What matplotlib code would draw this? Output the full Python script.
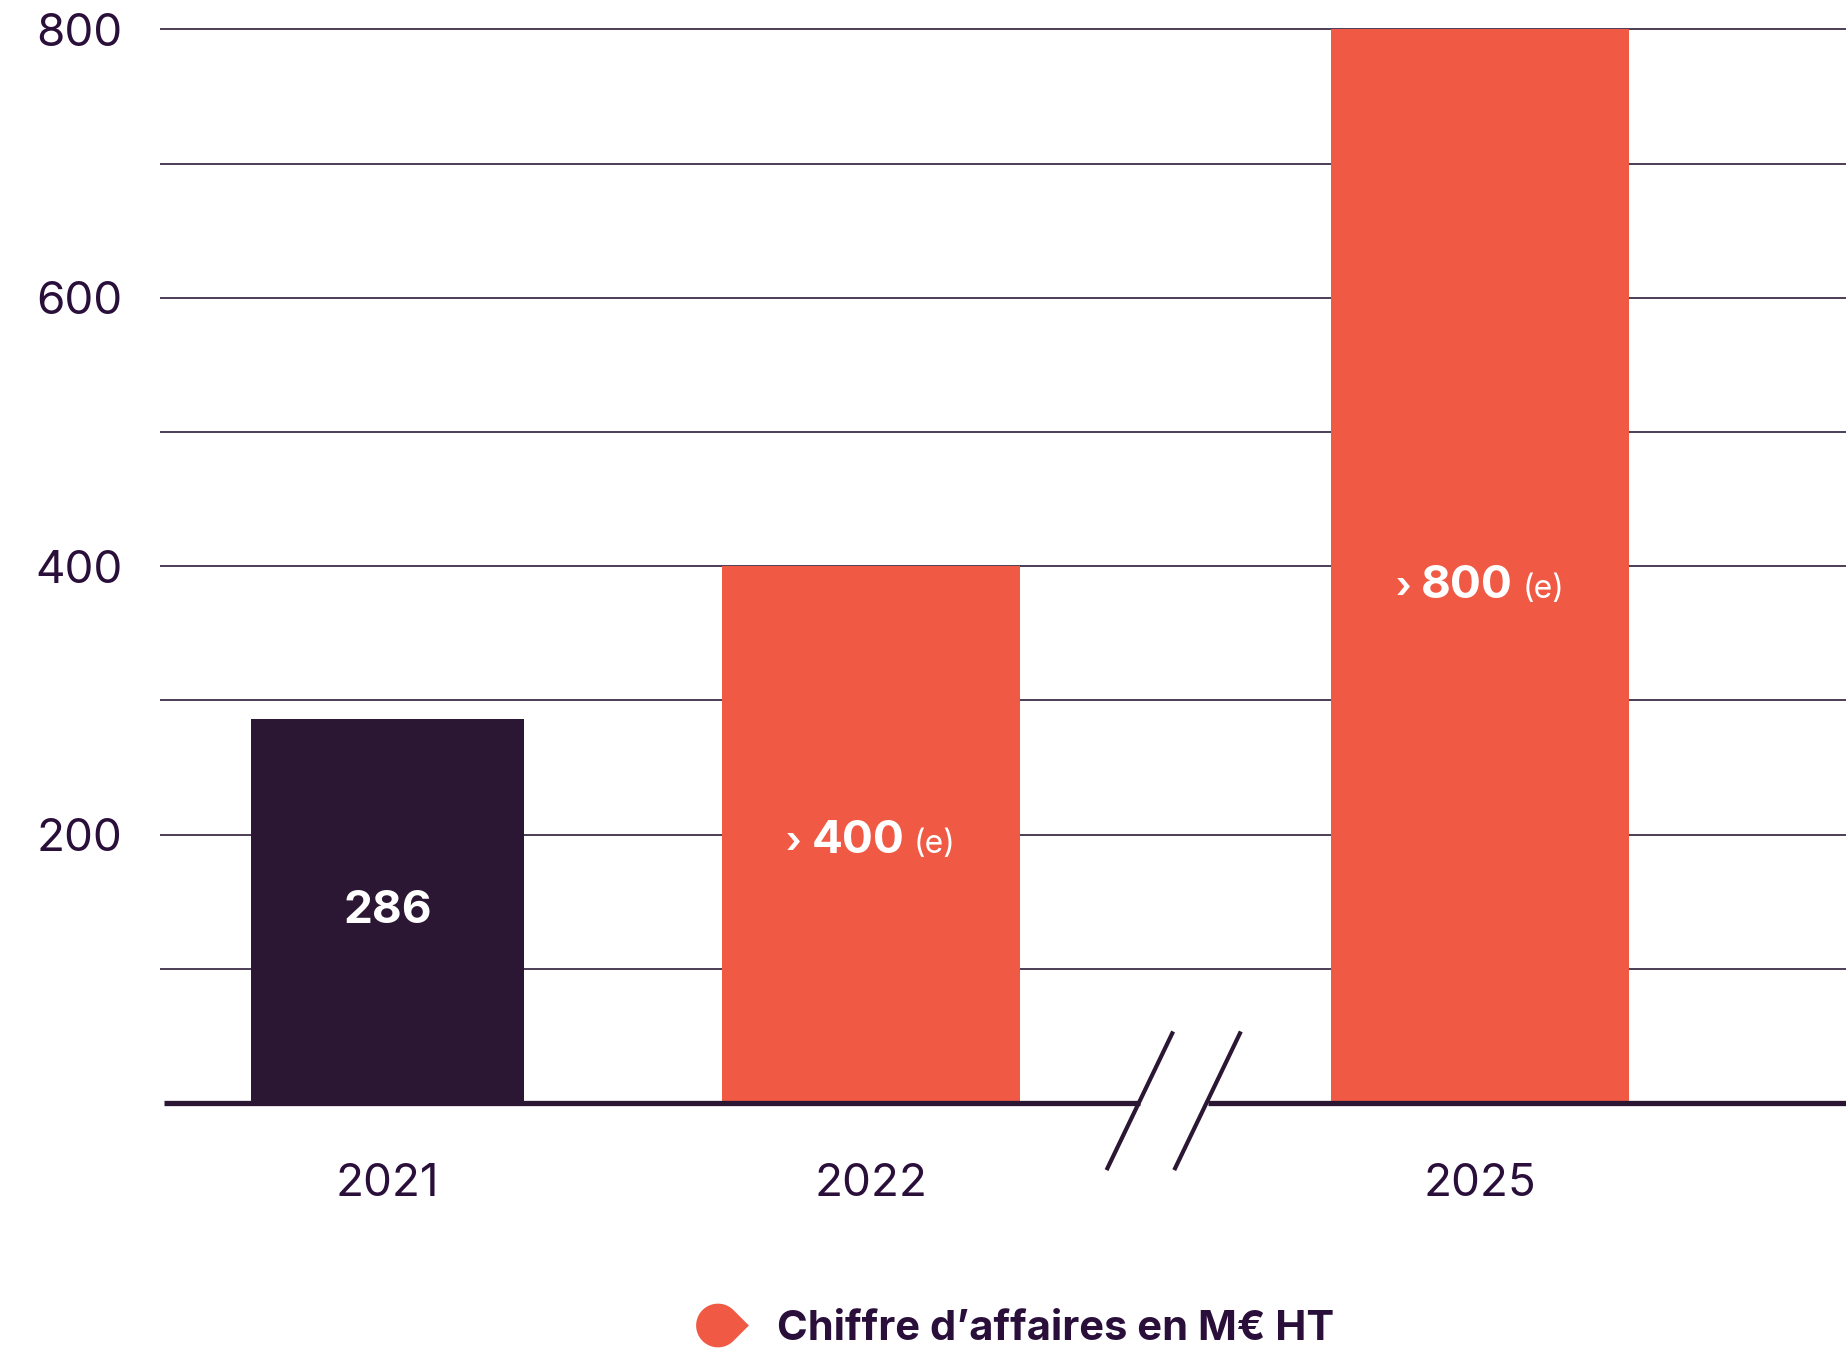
import numpy as np
import matplotlib
matplotlib.use('Agg')
import matplotlib.pyplot as plt
from matplotlib.path import Path
from matplotlib.lines import Line2D
from matplotlib.offsetbox import TextArea, HPacker, AnnotationBbox

# revenue, M€ excl. tax
years = ['2021', '2022', '2025']
revenue = [286, 400, 800]
estimated = [False, True, True]
x_pos = [0.0, 1.0, 2.26]          # gap before 2025 (axis break)
bar_width = [0.565, 0.616, 0.616]
ytick_vals = [100, 200, 300, 400, 500, 600, 700, 800]
ytick_labels = ['', '200', '', '400', '', '600', '', '800']
legend_label = 'Chiffre d\u2019affaires en M\u20ac HT'

# vertical nudge of the in-bar labels below mid-height (data units)
label_drop = [0, 5, 15]

DARK = '#2b1634'
CORAL = '#f05a45'
TEXT = '#2a0f3a'
GRID = '#4d3d58'
FONT = 'Inter'

plt.rcParams['font.family'] = [FONT, 'DejaVu Sans']

fig = plt.figure(figsize=(18.46, 13.48), dpi=100)
ax = fig.add_axes([160 / 1846, 0.18175, 1 - 160 / 1846, 0.98323 - 0.18175])

colors = [CORAL if e else DARK for e in estimated]
ax.bar(x_pos, revenue, width=bar_width, color=colors, zorder=2)

ax.set_xlim(-0.4705, 3.0165)
ax.set_ylim(0, 805)
ax.set_axisbelow(True)

ax.set_yticks(ytick_vals)
ax.set_yticklabels(ytick_labels)
ax.yaxis.grid(True, color=GRID, lw=1.4)
ax.set_xticks(x_pos)
ax.set_xticklabels(years)
ax.tick_params(axis='y', length=0, pad=27, labelsize=33, labelcolor=TEXT)
ax.tick_params(axis='x', length=0, pad=43, labelsize=33, labelcolor=TEXT)
for s in ax.spines.values():
    s.set_visible(False)

# baseline with a // break between 2022 and 2025
brk = 1.626
gap = 0.07
xl, xr = ax.get_xlim()
ax.plot([xl + 0.008, brk - gap], [0, 0], color=DARK, lw=3.8,
        solid_capstyle='butt', clip_on=False, zorder=3)
ax.plot([brk + gap, xr], [0, 0], color=DARK, lw=3.8, solid_capstyle='butt',
        clip_on=False, zorder=3)
for cx in (brk - gap, brk + gap):
    ax.plot([cx - 0.067, cx + 0.067], [-48.6, 51.9], color=DARK, lw=3.0,
            clip_on=False, zorder=3)

# value labels inside the bars
for x, v, e, d in zip(x_pos, revenue, estimated, label_drop):
    num = TextArea(str(v), textprops=dict(color='white', fontsize=33,
                                          fontweight='bold'))
    if e:
        parts = [TextArea('\u203a', textprops=dict(color='white', fontsize=26,
                                                   fontweight='bold')),
                 num,
                 TextArea('(e)', textprops=dict(color='white', fontsize=23))]
        box = HPacker(children=parts, align='baseline', pad=0, sep=7)
    else:
        box = num
    ab = AnnotationBbox(box, (x, v / 2 - d), frameon=False,
                        box_alignment=(0.5, 0.5), zorder=4)
    ax.add_artist(ab)

# teardrop legend marker pointing right
t = np.linspace(np.pi / 4, 2 * np.pi - np.pi / 4, 60)
verts = np.column_stack([np.cos(t), np.sin(t)])
verts = np.vstack([verts, [[np.sqrt(2), 0.0]], verts[:1]])
verts[:, 0] -= (np.sqrt(2) - 1) / 2
drop = Path(verts)
handle = Line2D([], [], marker=drop, ls='none', markersize=38,
                markerfacecolor=CORAL, markeredgewidth=0)
fig.legend([handle], [legend_label], loc='center',
           bbox_to_anchor=(0.549, 0.0143), frameon=False, borderpad=0,
           handletextpad=0.6, handlelength=1.4,
           prop=dict(family=FONT, weight='bold', size=30),
           labelcolor=TEXT)

fig.savefig('out.png', dpi=100)
